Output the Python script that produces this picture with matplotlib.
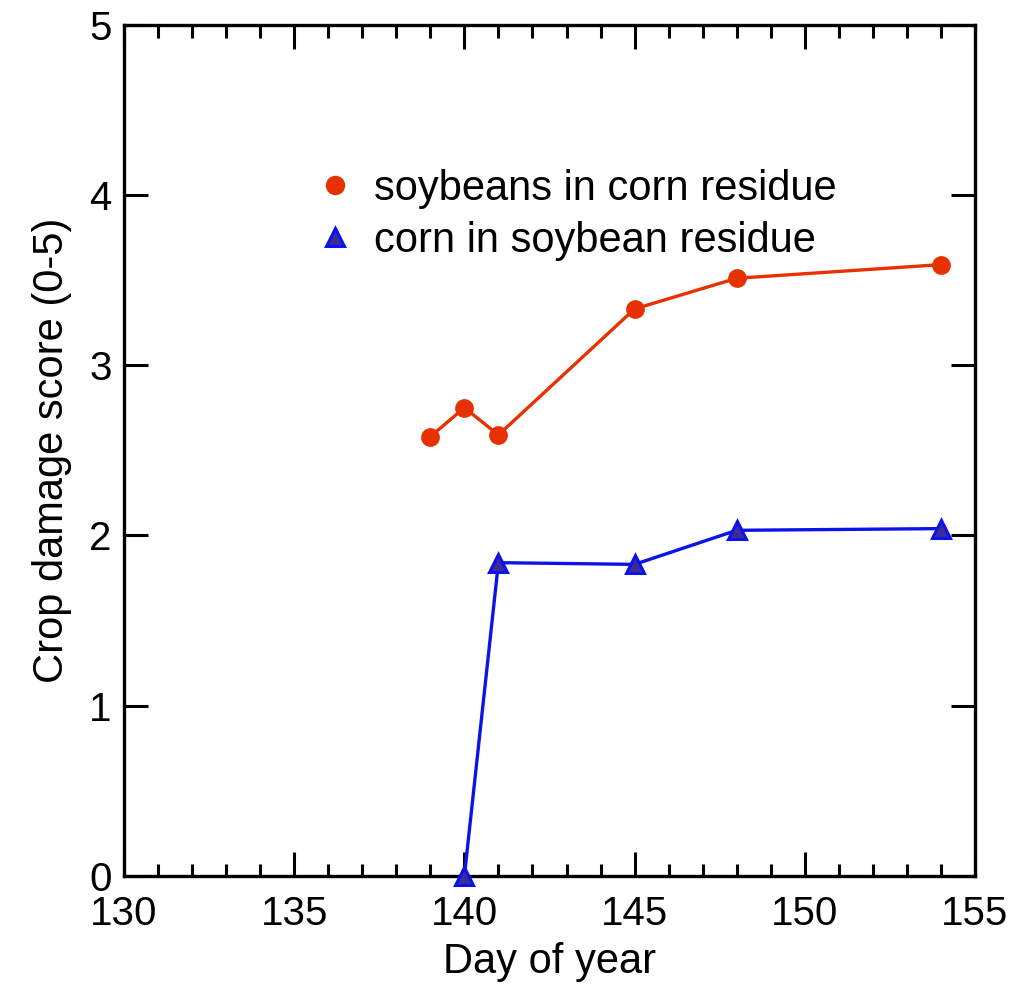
"""Crop damage score by day of year for two rotations."""

import matplotlib
matplotlib.use("Agg")
import matplotlib.pyplot as plt
from matplotlib.lines import Line2D
from matplotlib.ticker import MultipleLocator

SOY_DAYS = [139, 140, 141, 145, 148, 154]
SOY_SCORE = [2.58, 2.75, 2.59, 3.33, 3.51, 3.59]
CORN_DAYS = [140, 141, 145, 148, 154]
CORN_SCORE = [0.0, 1.84, 1.83, 2.03, 2.04]

SOY_LABEL = "soybeans in corn residue"
CORN_LABEL = "corn in soybean residue"

RED = "#e83100"
BLUE = "#0a14ea"
PURPLE = "#3b2d99"

plt.rcParams["font.family"] = ["Liberation Sans", "DejaVu Sans"]

fig = plt.figure(figsize=(10.35, 9.92), dpi=100)
ax = fig.add_axes([0.1198, 0.1169, 0.8222, 0.8584])

ax.plot(SOY_DAYS, SOY_SCORE, color=RED, linewidth=2.4, marker="o",
        markersize=13.5, markeredgewidth=0, clip_on=False, zorder=3)
ax.plot(CORN_DAYS, CORN_SCORE, color=BLUE, linewidth=2.4, marker="^",
        markersize=13.5, markerfacecolor=PURPLE, markeredgecolor=BLUE,
        markeredgewidth=2.2, clip_on=False, zorder=3)

ax.set_xlim(130, 155)
ax.set_ylim(0, 5)
ax.xaxis.set_major_locator(MultipleLocator(5))
ax.xaxis.set_minor_locator(MultipleLocator(1))
ax.yaxis.set_major_locator(MultipleLocator(1))
ax.tick_params(which="both", direction="in", top=True, right=True,
               width=2.2, labelsize=29, colors="black")
ax.tick_params(which="major", length=17)
ax.tick_params(axis="x", which="major", pad=14)
ax.tick_params(axis="y", which="major", pad=9)
ax.tick_params(which="minor", length=9)
for sp in ax.spines.values():
    sp.set_linewidth(2.4)

ax.set_xlabel("Day of year", fontsize=30, labelpad=6)
ax.set_ylabel("Crop damage score (0-5)", fontsize=30, labelpad=12)

handles = [
    Line2D([], [], linestyle="none", marker="o", color=RED, markersize=14,
           markeredgewidth=0),
    Line2D([], [], linestyle="none", marker="^", markerfacecolor=PURPLE,
           markeredgecolor=BLUE, markeredgewidth=2.2, markersize=13),
]
ax.legend(handles, [SOY_LABEL, CORN_LABEL], loc="upper left",
          bbox_to_anchor=(0.206, 0.85), frameon=False, fontsize=30,
          handlelength=0.9, handletextpad=0.5, labelspacing=0.28,
          borderaxespad=0)

fig.savefig("out.png", dpi=100)
